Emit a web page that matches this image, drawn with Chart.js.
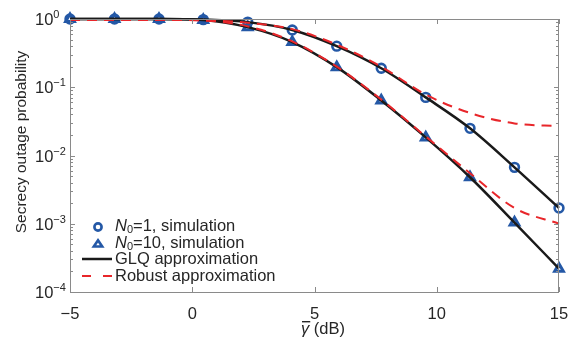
<!DOCTYPE html>
<html>
<head>
<meta charset="utf-8">
<script src="https://cdn.jsdelivr.net/npm/chart.js@4/dist/chart.umd.min.js"></script>
<style>
  html, body { margin: 0; padding: 0; background: #fff; }
  #wrap { width: 574px; height: 340px; }
</style>
</head>
<body>
<div id="wrap"><canvas id="chart" width="574" height="340"></canvas></div>
<script>
// x positions of the simulated points (dB)
const snr = [-5, -3.18, -1.36, 0.45, 2.27, 4.09, 5.91, 7.73, 9.55, 11.36, 13.18, 15];

const simN1 = [1, 1, 1, 0.98, 0.9, 0.69, 0.4, 0.19, 0.071, 0.025, 0.0067, 0.0017];
const simN10 = [1, 1, 1, 0.97, 0.76, 0.46, 0.197, 0.064, 0.0184, 0.0048, 0.00104, 0.00022];

const glqN1 = [1, 1, 1, 0.98, 0.9, 0.69, 0.4, 0.19, 0.071, 0.025, 0.0067, 0.0017];
const glqN10 = [1, 1, 1, 0.97, 0.76, 0.46, 0.197, 0.064, 0.0184, 0.0048, 0.00104, 0.00022];

const robustN1 = [0.97, 0.97, 0.97, 0.96, 0.88, 0.71, 0.42, 0.2, 0.078, 0.042, 0.0295, 0.027];
const robustN10 = [0.97, 0.97, 0.97, 0.95, 0.78, 0.47, 0.2, 0.066, 0.019, 0.0055, 0.0017, 0.001];

const xTicks = [-5, 0, 5, 10, 15];
const yDecades = [0, -1, -2, -3, -4];

const legendItems = ["=1, simulation", "=10, simulation", "GLQ approximation", "Robust approximation"];

const BLUE = "#2458a6";
const RED = "#e8262a";
const BLACK = "#1a1a1a";
const GREY = "#8a8a8a";
const TEXT = "#262626";
const FONT = "'Liberation Sans', Arial, sans-serif";

const pts = (ys) => snr.map((x, i) => ({ x, y: ys[i] }));

function lineSet(label, ys, color, dash, width, order) {
  return {
    label,
    data: pts(ys),
    borderColor: color,
    backgroundColor: color,
    borderWidth: width,
    borderDash: dash,
    pointRadius: 0,
    cubicInterpolationMode: "monotone",
    fill: false,
    clip: false,
    order,
  };
}

function markerSet(label, ys, style, radius, width, order) {
  return {
    label,
    data: pts(ys),
    showLine: false,
    pointStyle: style,
    pointRadius: radius,
    pointBorderWidth: width,
    pointBorderColor: BLUE,
    pointBackgroundColor: "rgba(0,0,0,0)",
    clip: false,
    order,
  };
}

function drawMarker(ctx, style, x, y, r) {
  ctx.save();
  ctx.strokeStyle = BLUE;
  ctx.lineWidth = 2.6;
  ctx.beginPath();
  if (style === "circle") {
    ctx.arc(x, y, r, 0, Math.PI * 2);
  } else {
    const h = r * 1.5;
    ctx.moveTo(x, y - h * 0.6);
    ctx.lineTo(x + r, y + h * 0.4);
    ctx.lineTo(x - r, y + h * 0.4);
    ctx.closePath();
  }
  ctx.stroke();
  ctx.restore();
}

const decorations = {
  id: "decorations",
  afterDraw(chart) {
    const { ctx, chartArea: a, scales } = chart;
    const xs = scales.x, ys = scales.y;
    ctx.save();

    // frame
    ctx.strokeStyle = GREY;
    ctx.lineWidth = 1;
    ctx.strokeRect(a.left + 0.5, a.top + 0.5, a.right - a.left - 1, a.bottom - a.top);

    // inward ticks
    ctx.beginPath();
    xTicks.forEach((v) => {
      const px = Math.round(xs.getPixelForValue(v)) + 0.5;
      ctx.moveTo(px, a.bottom); ctx.lineTo(px, a.bottom - 5);
      ctx.moveTo(px, a.top); ctx.lineTo(px, a.top + 5);
    });
    yDecades.forEach((d) => {
      for (let m = 1; m <= 9; m++) {
        const v = m * Math.pow(10, d);
        if (v > 1.0001 || v < 0.99e-4) continue;
        const py = Math.round(ys.getPixelForValue(v)) + 0.5;
        const len = m === 1 ? 5 : 3;
        ctx.moveTo(a.left, py); ctx.lineTo(a.left + len, py);
        ctx.moveTo(a.right, py); ctx.lineTo(a.right - len, py);
      }
    });
    ctx.stroke();

    // y tick labels 10^k
    ctx.fillStyle = TEXT;
    ctx.textBaseline = "alphabetic";
    ctx.textAlign = "left";
    yDecades.forEach((d) => {
      const py = ys.getPixelForValue(Math.pow(10, d));
      ctx.font = "16.5px " + FONT;
      ctx.fillText("10", 35, py + 6);
      const w = ctx.measureText("10").width;
      ctx.font = "11px " + FONT;
      ctx.fillText(d === 0 ? "0" : "\u2212" + (-d), 35 + w, py - 1);
    });

    // y title
    ctx.save();
    ctx.translate(22, 142);
    ctx.rotate(-Math.PI / 2);
    ctx.font = "15.5px " + FONT;
    ctx.textAlign = "center";
    ctx.textBaseline = "middle";
    ctx.fillText("Secrecy outage probability", 0, 0);
    ctx.restore();

    // x title: gamma-bar (dB)
    ctx.font = "italic 16.5px " + FONT;
    const gW = ctx.measureText("\u03b3").width;
    ctx.font = "16.5px " + FONT;
    const rest = " (dB)";
    const rW = ctx.measureText(rest).width;
    const x0 = 323 - (gW + rW) / 2;
    const base = 334;
    ctx.textBaseline = "alphabetic";
    ctx.font = "italic 16.5px " + FONT;
    ctx.fillText("\u03b3", x0, base);
    ctx.fillRect(x0 + 1, base - 13, gW, 1.4);
    ctx.font = "16.5px " + FONT;
    ctx.fillText(rest, x0 + gW, base);

    // legend
    const lx = 115;
    const rows = [226, 243, 259, 276];
    drawMarker(ctx, "circle", 98, rows[0] + 1, 3.6);
    drawMarker(ctx, "triangle", 98, rows[1] + 1, 4.2);
    ctx.strokeStyle = BLACK;
    ctx.lineWidth = 2.5;
    ctx.beginPath(); ctx.moveTo(82, rows[2]); ctx.lineTo(112, rows[2]); ctx.stroke();
    ctx.strokeStyle = RED;
    ctx.lineWidth = 2;
    ctx.beginPath();
    ctx.moveTo(82, rows[3]); ctx.lineTo(91, rows[3]);
    ctx.moveTo(103, rows[3]); ctx.lineTo(112, rows[3]);
    ctx.stroke();

    ctx.fillStyle = TEXT;
    ctx.textBaseline = "middle";
    legendItems.forEach((txt, i) => {
      let x = lx;
      const y = rows[i];
      if (i < 2) {
        ctx.font = "italic 16.5px " + FONT;
        ctx.fillText("N", x, y);
        x += ctx.measureText("N").width;
        ctx.font = "11px " + FONT;
        ctx.fillText("0", x, y + 4);
        x += ctx.measureText("0").width;
      }
      ctx.font = "16.5px " + FONT;
      ctx.fillText(txt, x, y);
    });

    ctx.restore();
  },
};

new Chart(document.getElementById("chart"), {
  type: "line",
  data: {
    datasets: [
      lineSet("Robust N0=1", robustN1, RED, [10, 7], 2, 1),
      lineSet("Robust N0=10", robustN10, RED, [10, 7], 2, 1),
      lineSet("GLQ N0=1", glqN1, BLACK, [], 2.5, 2),
      lineSet("GLQ N0=10", glqN10, BLACK, [], 2.5, 2),
      markerSet("N0=1, simulation", simN1, "circle", 4.4, 2.6, 3),
      markerSet("N0=10, simulation", simN10, "triangle", 5, 3, 3),
    ],
  },
  options: {
    responsive: false,
    animation: false,
    layout: { padding: { left: 0, top: 19, right: 15, bottom: 0 } },
    plugins: { legend: { display: false }, tooltip: { enabled: false } },
    scales: {
      x: {
        type: "linear",
        min: -5,
        max: 15,
        grid: { display: false },
        border: { display: false },
        ticks: {
          stepSize: 5,
          padding: 5,
          color: TEXT,
          font: { size: 16.5, family: FONT },
          maxRotation: 0,
          callback: (v) => String(v).replace("-", "\u2212"),
        },
        afterFit: (s) => { s.height = 48; },
      },
      y: {
        type: "logarithmic",
        min: 1e-4,
        max: 1,
        grid: { display: false },
        border: { display: false },
        ticks: { display: false },
        afterFit: (s) => { s.width = 70; },
      },
    },
  },
  plugins: [decorations],
});
</script>
</body>
</html>
